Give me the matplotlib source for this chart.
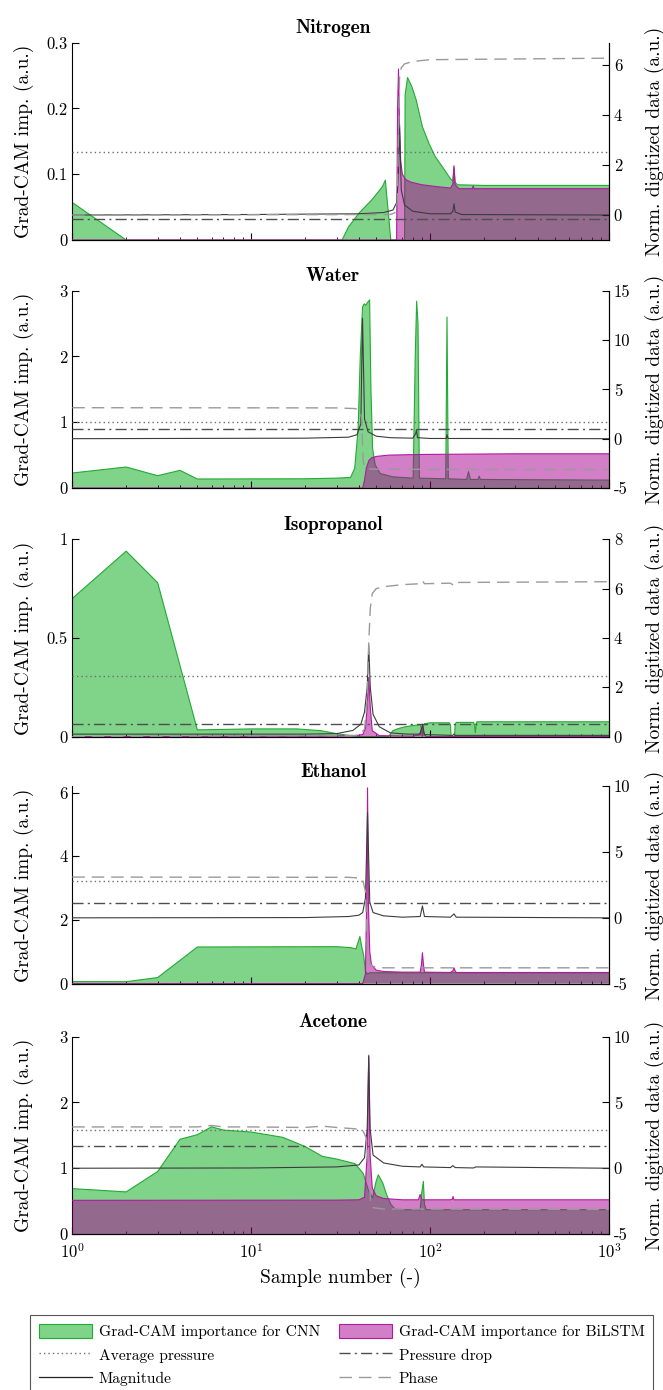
import matplotlib
matplotlib.use('Agg')
import matplotlib.pyplot as plt
from matplotlib.patches import Patch
from matplotlib.lines import Line2D
from matplotlib.ticker import FuncFormatter, FixedLocator

plt.rcParams.update({
    'font.family': ['cmr10'],
    'mathtext.fontset': 'cm',
    'axes.unicode_minus': False,
    'axes.formatter.use_mathtext': False,
})

# ---------------- data ----------------
titles = ['Nitrogen', 'Water', 'Isopropanol', 'Ethanol', 'Acetone']

# Nitrogen
n_cnn_x = [1, 2, 32.2, 35, 40.1, 47.2, 54.1, 56.2, 60.3, 72.0, 72.5, 74.8, 79.1, 83.6, 90.6, 98.5, 106.7, 118.7, 130, 134, 136, 138, 142, 200, 1000]
n_cnn_y = [0.057, 0, 0, 0.020, 0.041, 0.061, 0.081, 0.091, 0, 0, 0.22, 0.247, 0.233, 0.213, 0.172, 0.147, 0.127, 0.109, 0.093, 0.09, 0.11, 0.088, 0.084, 0.083, 0.083]
n_lstm_x = [1, 65.0, 65.8, 66.6, 67.5, 68.5, 70, 73, 78, 90, 110, 130, 134, 136, 138, 145, 172, 174, 176, 1000]
n_lstm_y = [0, 0, 0.2, 0.26, 0.17, 0.12, 0.1, 0.092, 0.088, 0.084, 0.081, 0.079, 0.085, 0.113, 0.084, 0.078, 0.078, 0.082, 0.078, 0.078]
n_mag_x = [1, 10, 40, 55, 62, 65, 66.5, 67.5, 69, 72, 80, 100, 130, 134, 136, 138, 150, 1000]
n_mag_y = [0.0, 0.02, 0.05, 0.1, 0.2, 0.5, 1.5, 3.6, 1.0, 0.4, 0.15, 0.05, 0.05, 0.15, 0.45, 0.12, 0.02, 0.0]
n_ph_x = [1, 60, 64, 65.5, 66.5, 67.5, 69, 72, 80, 100, 1000]
n_ph_y = [0, 0.02, 0.1, 0.5, 3.0, 5.6, 5.9, 6.05, 6.15, 6.22, 6.28]

# Water
w_cnn_x = [1, 2, 3, 4, 5, 20, 30, 35.9, 37.9, 39.6, 40.7, 41.9, 42.8, 43.7, 44.7, 45.9, 46.7, 47.7, 49.3, 52.6, 61.9, 80.4, 82.6, 84.1, 85.6, 87.1, 122.3, 124.3, 126.4, 160, 164, 168, 185, 188, 191, 1000]
w_cnn_y = [0.228, 0.319, 0.187, 0.268, 0.137, 0.14, 0.15, 0.16, 0.3, 0.9, 2.0, 2.75, 2.8, 2.78, 2.82, 2.86, 1.5, 0.6, 0.35, 0.22, 0.17, 0.15, 2.0, 2.84, 2.5, 0.15, 0.14, 2.6, 0.14, 0.13, 0.25, 0.13, 0.13, 0.18, 0.13, 0.12]
w_lstm_x = [1, 42.0, 43.0, 44.0, 45.5, 47.2, 50, 58.6, 90, 300, 1000]
w_lstm_y = [0, 0, 0.12, 0.3, 0.42, 0.46, 0.48, 0.5, 0.51, 0.52, 0.52]
w_mag_x = [1, 20, 35, 39, 41, 41.9, 43, 45, 50, 60, 80, 83, 84, 85, 100, 123, 124.3, 126, 165, 1000]
w_mag_y = [0, 0.05, 0.15, 0.4, 1.5, 12.2, 2.0, 0.7, 0.25, 0.1, 0.05, 0.5, 0.9, 0.1, 0.02, 0.02, 0.4, 0.02, 0.02, 0]
w_ph_x = [1, 30, 38, 40.5, 41.5, 42.2, 43, 45, 50, 1000]
w_ph_y = [3.14, 3.12, 3.05, 2.9, 2.0, -2.2, -2.9, -3.05, -3.1, -3.14]

# Isopropanol
i_cnn_x = [1, 2, 3, 5, 10, 18, 24.5, 30.5, 36, 40, 58.5, 62, 67, 73, 80, 88, 89.5, 90.6, 91.7, 93, 100, 128, 130, 131, 137, 138, 140, 175, 177, 179, 181, 183, 1000]
i_cnn_y = [0.70, 0.94, 0.78, 0.034, 0.039, 0.039, 0.03, 0.014, 0.005, 0, 0, 0.03, 0.042, 0.05, 0.056, 0.06, 0.04, 0, 0.05, 0.065, 0.07, 0.07, 0.06, 0, 0, 0.06, 0.072, 0.072, 0.06, 0.02, 0.065, 0.075, 0.075]
i_lstm_x = [1, 25, 38, 42, 43.5, 44.5, 45.4, 46.3, 47.5, 52, 80, 87, 89, 90.6, 92, 95, 1000]
i_lstm_y = [0, 0.002, 0.005, 0.01, 0.04, 0.15, 0.30, 0.15, 0.03, 0.005, 0.002, 0.01, 0.03, 0.05, 0.02, 0, 0]
i_mag_x = [1, 20, 30, 37, 41, 43, 44.5, 45.4, 46.3, 48, 52, 60, 75, 88, 90.6, 93, 134, 136, 138, 1000]
i_mag_y = [0.1, 0.1, 0.12, 0.25, 0.5, 1.0, 2.0, 3.7, 2.0, 0.9, 0.4, 0.15, 0.1, 0.1, 0.5, 0.08, 0.05, 0.1, 0.05, 0.05]
i_ph_x = [1, 40, 43, 44.5, 45.4, 46.3, 47.5, 50, 55, 70, 88, 90.6, 93, 130, 136, 140, 1000]
i_ph_y = [0, 0.05, 0.3, 1.5, 3.8, 5.2, 5.8, 6.0, 6.08, 6.16, 6.2, 6.32, 6.2, 6.22, 6.12, 6.25, 6.28]

# Ethanol
e_cnn_x = [1, 2, 3, 5, 30, 36, 38.5, 40.5, 41.6, 42.5, 43.5, 44.5, 46, 50, 1000]
e_cnn_y = [0.063, 0.06, 0.19, 1.15, 1.16, 1.13, 1.09, 1.48, 1.12, 0.9, 0.4, 0.3, 0.34, 0.34, 0.34]
e_lstm_x = [1, 42, 43.5, 44.2, 44.7, 45.2, 46, 47, 50, 55, 70, 88, 89.5, 90.6, 91.8, 93, 130, 134, 136, 138, 140, 1000]
e_lstm_y = [0, 0, 0.3, 2.5, 6.15, 2.5, 1.0, 0.6, 0.42, 0.38, 0.36, 0.36, 0.6, 0.97, 0.6, 0.36, 0.35, 0.4, 0.5, 0.4, 0.35, 0.35]
e_mag_x = [1, 20, 35, 40, 42, 43.5, 44.7, 46, 48, 55, 70, 88, 90.6, 93, 130, 136, 140, 1000]
e_mag_y = [0, 0.02, 0.1, 0.2, 0.4, 1.5, 8.0, 1.2, 0.4, 0.15, 0.05, 0.1, 0.9, 0.1, 0.05, 0.3, 0.05, 0]
e_ph_x = [1, 35, 40, 42, 43.5, 44.7, 46, 48, 55, 1000]
e_ph_y = [3.1, 3.08, 3.03, 2.9, 2.0, -2.5, -3.5, -3.7, -3.8, -3.8]

# Acetone
a_cnn_x = [1, 2, 3, 4, 5, 6, 7, 10, 15, 20, 25, 30, 38, 42.3, 45.4, 47.7, 49.9, 51.3, 54.3, 57.1, 60.3, 63.6, 70, 86, 88, 89.5, 91.7, 93, 95, 100, 1000]
a_cnn_y = [0.69, 0.64, 0.95, 1.44, 1.51, 1.63, 1.58, 1.55, 1.47, 1.33, 1.18, 1.14, 1.07, 0.92, 0.65, 0.55, 0.8, 0.9, 0.78, 0.6, 0.45, 0.38, 0.37, 0.37, 0.36, 0.6, 0.8, 0.45, 0.37, 0.37, 0.37]
a_lstm_x = [1, 30, 40, 43, 44.5, 45.4, 46.2, 47.5, 50, 55, 70, 86, 88, 90, 130, 133, 134.5, 136, 1000]
a_lstm_y = [0.512, 0.515, 0.52, 0.56, 1.2, 2.72, 1.2, 0.7, 0.58, 0.54, 0.52, 0.52, 0.6, 0.52, 0.52, 0.53, 0.57, 0.52, 0.52]
a_mag_x = [1, 10, 30, 40, 43, 44.5, 45.4, 46.2, 48, 55, 70, 88, 90, 92, 130, 134, 138, 175, 180, 1000]
a_mag_y = [0, 0.02, 0.1, 0.25, 0.8, 3, 8.5, 3, 1, 0.4, 0.15, 0.1, 0.3, 0.1, 0.05, 0.2, 0.05, 0.02, 0.1, 0]
a_ph_x = [1, 5, 6, 7, 10, 20, 25, 30, 38, 42, 44, 45.4, 46.5, 48, 55, 1000]
a_ph_y = [3.14, 3.14, 3.25, 3.14, 3.14, 3.1, 3.2, 3.1, 3.0, 2.9, 2.3, 0, -2.6, -3.0, -3.1, -3.14]

avg_pressure = [2.54, 1.68, 2.45, 2.82, 2.9]
pressure_drop = [-0.16, 1.0, 0.51, 1.09, 1.68]

left_lims = [(0, 0.3), (0, 3), (0, 1), (0, 6.2), (0, 3)]
left_ticks = [[0, 0.1, 0.2, 0.3], [0, 1, 2, 3], [0, 0.5, 1], [0, 2, 4, 6], [0, 1, 2, 3]]
right_lims = [(-1, 6.9), (-5, 15), (0, 8), (-5, 10), (-5, 10)]
right_ticks = [[0, 2, 4, 6], [-5, 0, 5, 10, 15], [0, 2, 4, 6, 8], [-5, 0, 5, 10], [-5, 0, 5, 10]]

cnn = [(n_cnn_x, n_cnn_y), (w_cnn_x, w_cnn_y), (i_cnn_x, i_cnn_y), (e_cnn_x, e_cnn_y), (a_cnn_x, a_cnn_y)]
lstm = [(n_lstm_x, n_lstm_y), (w_lstm_x, w_lstm_y), (i_lstm_x, i_lstm_y), (e_lstm_x, e_lstm_y), (a_lstm_x, a_lstm_y)]
mag = [(n_mag_x, n_mag_y), (w_mag_x, w_mag_y), (i_mag_x, i_mag_y), (e_mag_x, e_mag_y), (a_mag_x, a_mag_y)]
phase = [(n_ph_x, n_ph_y), (w_ph_x, w_ph_y), (i_ph_x, i_ph_y), (e_ph_x, e_ph_y), (a_ph_x, a_ph_y)]

# ---------------- style ----------------
GREEN_FC = (0.0, 0.667, 0.08, 0.5)
GREEN_EC = '#22aa33'
MAG_FC = (0.655, 0.0, 0.57, 0.5)
MAG_EC = '#b01a9e'
MAG_LINE = '#3c3c3c'
PH_COL = '#9a9a9a'
AVG_COL = '#6e6e6e'
PD_COL = '#4e4e4e'
PH_DASH = (0, (9, 5))
AVG_DASH = (0, (1, 2.2))
PD_DASH = (0, (8, 3, 1.5, 3))

W, H = 663, 1390
fig = plt.figure(figsize=(W / 100, H / 100), dpi=100)
tops = [42.7, 290.7, 539.3, 786.3, 1036.7]
ah = 197.3
left_px, right_px = 72.3, 609.0

fmt = FuncFormatter(lambda v, p: '%g' % v)

for i in range(5):
    top = tops[i]
    ax = fig.add_axes([left_px / W, 1 - (top + ah) / H, (right_px - left_px) / W, ah / H])
    ax.set_xscale('log')
    ax.set_xlim(1, 1000)
    ax.set_ylim(*left_lims[i])
    cx, cy = cnn[i]
    lx, ly = lstm[i]
    ax.fill_between(cx, 0, cy, facecolor=GREEN_FC, edgecolor='none', zorder=1)
    ax.plot(cx, cy, color=GREEN_EC, lw=0.8, zorder=2)
    ax.fill_between(lx, 0, ly, facecolor=MAG_FC, edgecolor='none', zorder=3)
    ax.plot(lx, ly, color=MAG_EC, lw=0.8, zorder=4)
    ax.yaxis.set_major_locator(FixedLocator(left_ticks[i]))
    ax.yaxis.set_major_formatter(fmt)
    ax.tick_params(axis='both', which='major', direction='in', length=5, width=0.8, labelsize=12)
    ax.tick_params(axis='x', which='major', pad=6)
    ax.tick_params(axis='x', which='minor', direction='in', length=2.5, width=0.6)
    ax.spines['top'].set_visible(False)
    ax.set_ylabel('Grad-CAM imp. (a.u.)', fontsize=14)
    ax.yaxis.set_label_coords(-0.0714, 0.5)
    ax.set_title(titles[i], fontsize=14, fontfamily='cmb10', x=(333 - left_px) / (right_px - left_px), pad=7)

    ax2 = ax.twinx()
    ax2.set_ylim(*right_lims[i])
    ax2.axhline(avg_pressure[i], color=AVG_COL, lw=1.0, linestyle=AVG_DASH)
    ax2.axhline(pressure_drop[i], color=PD_COL, lw=1.0, linestyle=PD_DASH)
    mx, my = mag[i]
    ax2.plot(mx, my, color=MAG_LINE, lw=0.8)
    px, py = phase[i]
    ax2.plot(px, py, color=PH_COL, lw=1.0, linestyle=PH_DASH)
    ax2.yaxis.set_major_locator(FixedLocator(right_ticks[i]))
    ax2.yaxis.set_major_formatter(fmt)
    ax2.tick_params(axis='y', direction='in', length=5, width=0.8, labelsize=12)
    ax2.spines['top'].set_visible(False)
    ax2.spines['left'].set_visible(False)
    ax2.set_ylabel('Norm. digitized data (a.u.)', fontsize=14)
    ax2.yaxis.set_label_coords(1.067, 0.5)

    if i < 4:
        ax.tick_params(axis='x', which='both', labelbottom=False)
    else:
        ax.set_xlabel('Sample number (-)', fontsize=14, labelpad=5)

handles = [
    Patch(facecolor=GREEN_FC, edgecolor=GREEN_EC, lw=0.8, label='Grad-CAM importance for CNN'),
    Line2D([], [], color=AVG_COL, lw=1.0, linestyle=AVG_DASH, label='Average pressure'),
    Line2D([], [], color='#222222', lw=0.9, label='Magnitude'),
    Patch(facecolor=MAG_FC, edgecolor=MAG_EC, lw=0.8, label='Grad-CAM importance for BiLSTM'),
    Line2D([], [], color=PD_COL, lw=1.0, linestyle=PD_DASH, label='Pressure drop'),
    Line2D([], [], color=PH_COL, lw=1.0, linestyle=PH_DASH, label='Phase'),
]
leg = fig.legend(handles=handles, ncol=2, loc='upper left',
                 bbox_to_anchor=(30.4 / W, 1 - 1315 / H), fontsize=11.2,
                 frameon=True, fancybox=False, edgecolor='#555555', framealpha=1,
                 handlelength=3.4, handleheight=1.1, handletextpad=0.45,
                 columnspacing=1.2, borderpad=0.55, labelspacing=0.5, borderaxespad=0)
leg.get_frame().set_linewidth(0.8)

fig.savefig('out.png', dpi=100)
